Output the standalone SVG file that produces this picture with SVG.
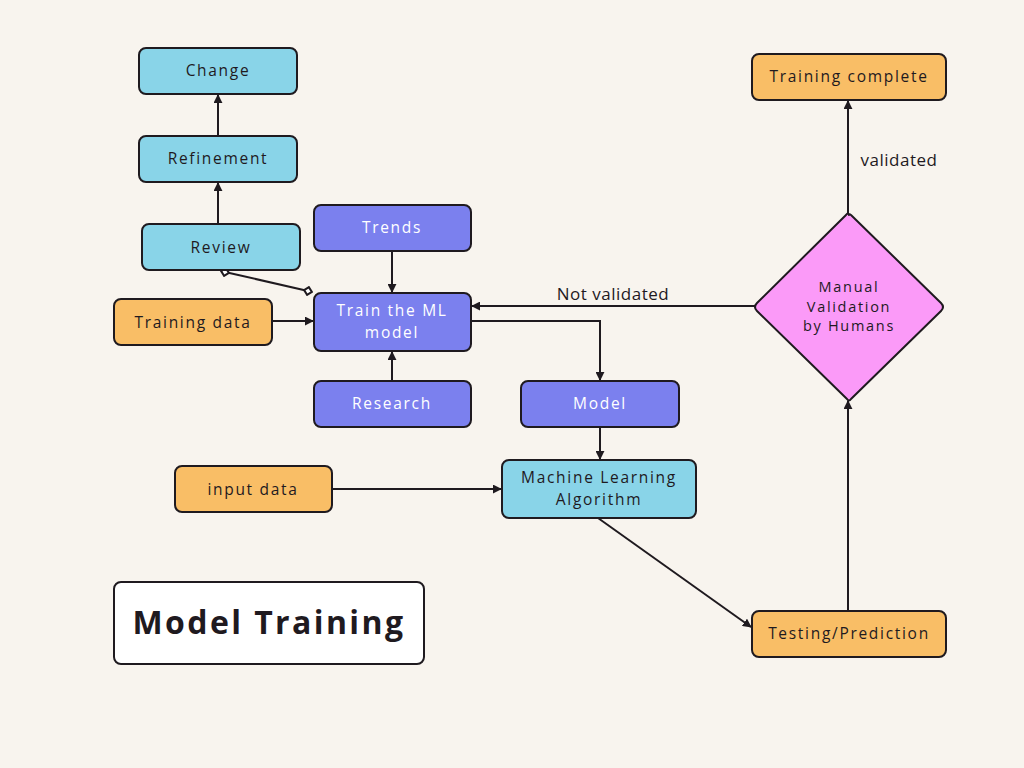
<svg xmlns="http://www.w3.org/2000/svg" width="1024" height="768" viewBox="0 0 1024 768">
<defs>
<style>
.n{stroke:#1f1a1f;stroke-width:2}
.blue{fill:#89D4E8}
.pur{fill:#7B80EE}
.org{fill:#F9BE66}
.pink{fill:#FB9AF8}
text{font-family:"Open Sans","Liberation Sans",sans-serif;font-size:15.5px;letter-spacing:1.7px;text-anchor:middle;fill:#1f1a1f}
.w{fill:#ffffff}
.d{font-size:14.5px}
.lbl{letter-spacing:0.5px;font-size:17px}
.c{fill:none;stroke:#1f1a1f;stroke-width:2}
</style>
<marker id="ah" viewBox="0 0 10 10" refX="9" refY="5" markerWidth="4.5" markerHeight="4.5" orient="auto-start-reverse">
<path d="M0,0 L10,5 L0,10 z" fill="#1f1a1f"/>
</marker>
<marker id="dm" viewBox="0 0 10 10" refX="5" refY="5" markerWidth="5" markerHeight="5" orient="auto">
<path d="M1,5 L5,1 L9,5 L5,9 z" fill="#fff" stroke="#1f1a1f" stroke-width="2"/>
</marker>
</defs>
<rect width="1024" height="768" fill="#F8F4EE"/>
<g id="connectors">
<line class="c" x1="218" y1="136" x2="218" y2="95" marker-end="url(#ah)"/>
<line class="c" x1="218" y1="224" x2="218" y2="183" marker-end="url(#ah)"/>
<line class="c" x1="225" y1="272" x2="308" y2="291" marker-start="url(#dm)" marker-end="url(#dm)"/>
<line class="c" x1="392" y1="251" x2="392" y2="292" marker-end="url(#ah)"/>
<line class="c" x1="392" y1="381" x2="392" y2="352" marker-end="url(#ah)"/>
<line class="c" x1="272" y1="321" x2="313" y2="321" marker-end="url(#ah)"/>
<line class="c" x1="755" y1="306" x2="472" y2="306" marker-end="url(#ah)"/>
<polyline class="c" points="471,321 600,321 600,380" marker-end="url(#ah)"/>
<line class="c" x1="600" y1="427" x2="600" y2="459" marker-end="url(#ah)"/>
<line class="c" x1="332" y1="489" x2="501" y2="489" marker-end="url(#ah)"/>
<line class="c" x1="598" y1="518" x2="751" y2="627" marker-end="url(#ah)"/>
<line class="c" x1="848" y1="611" x2="848" y2="401" marker-end="url(#ah)"/>
<line class="c" x1="848" y1="213" x2="848" y2="101" marker-end="url(#ah)"/>
<text class="lbl" x="613" y="300">Not validated</text>
<text class="lbl" x="899" y="166">validated</text>
</g>
<g id="change"><rect class="n blue" x="139" y="48" width="158" height="46" rx="7"/><text x="218" y="76">Change</text></g>
<g id="refinement"><rect class="n blue" x="139" y="136" width="158" height="46" rx="7"/><text x="218" y="164">Refinement</text></g>
<g id="review"><rect class="n blue" x="142" y="224" width="158" height="46" rx="7"/><text x="221" y="253">Review</text></g>
<g id="trends"><rect class="n pur" x="314" y="205" width="157" height="46" rx="7"/><text class="w" x="392" y="233">Trends</text></g>
<g id="train"><rect class="n pur" x="314" y="293" width="157" height="58" rx="7"/><text class="w" x="392" y="316">Train the ML</text><text class="w" x="392" y="338">model</text></g>
<g id="training-data"><rect class="n org" x="114" y="299" width="158" height="46" rx="7"/><text x="193" y="328">Training data</text></g>
<g id="research"><rect class="n pur" x="314" y="381" width="157" height="46" rx="7"/><text class="w" x="392" y="409">Research</text></g>
<g id="model"><rect class="n pur" x="521" y="381" width="158" height="46" rx="7"/><text class="w" x="600" y="409">Model</text></g>
<g id="mla"><rect class="n blue" x="502" y="460" width="194" height="58" rx="7"/><text x="599" y="483">Machine Learning</text><text x="599" y="505">Algorithm</text></g>
<g id="input-data"><rect class="n org" x="175" y="466" width="157" height="46" rx="7"/><text x="253" y="495">input data</text></g>
<g id="training-complete"><rect class="n org" x="752" y="54" width="194" height="46" rx="7"/><text x="849" y="82">Training complete</text></g>
<g id="testing"><rect class="n org" x="752" y="611" width="194" height="46" rx="7"/><text x="849" y="639">Testing/Prediction</text></g>
<g id="validation"><path class="n pink" d="M849,215 Q848,213 851,215 L941,303 Q945,307 941,311 L851,399 Q849,402 847,399 L757,311 Q753,307 757,303 L846,215 Q848,212 849,215 z" stroke-linejoin="round"/><text class="d" x="849" y="292">Manual</text><text class="d" x="849" y="311.5">Validation</text><text class="d" x="849" y="331">by Humans</text></g>
<g id="title"><rect x="114" y="582" width="310" height="82" rx="7" fill="#ffffff" stroke="#1f1a1f" stroke-width="2"/><text x="269" y="634" style="font-size:32px;font-weight:bold;letter-spacing:2.4px">Model Training</text></g>
</svg>
